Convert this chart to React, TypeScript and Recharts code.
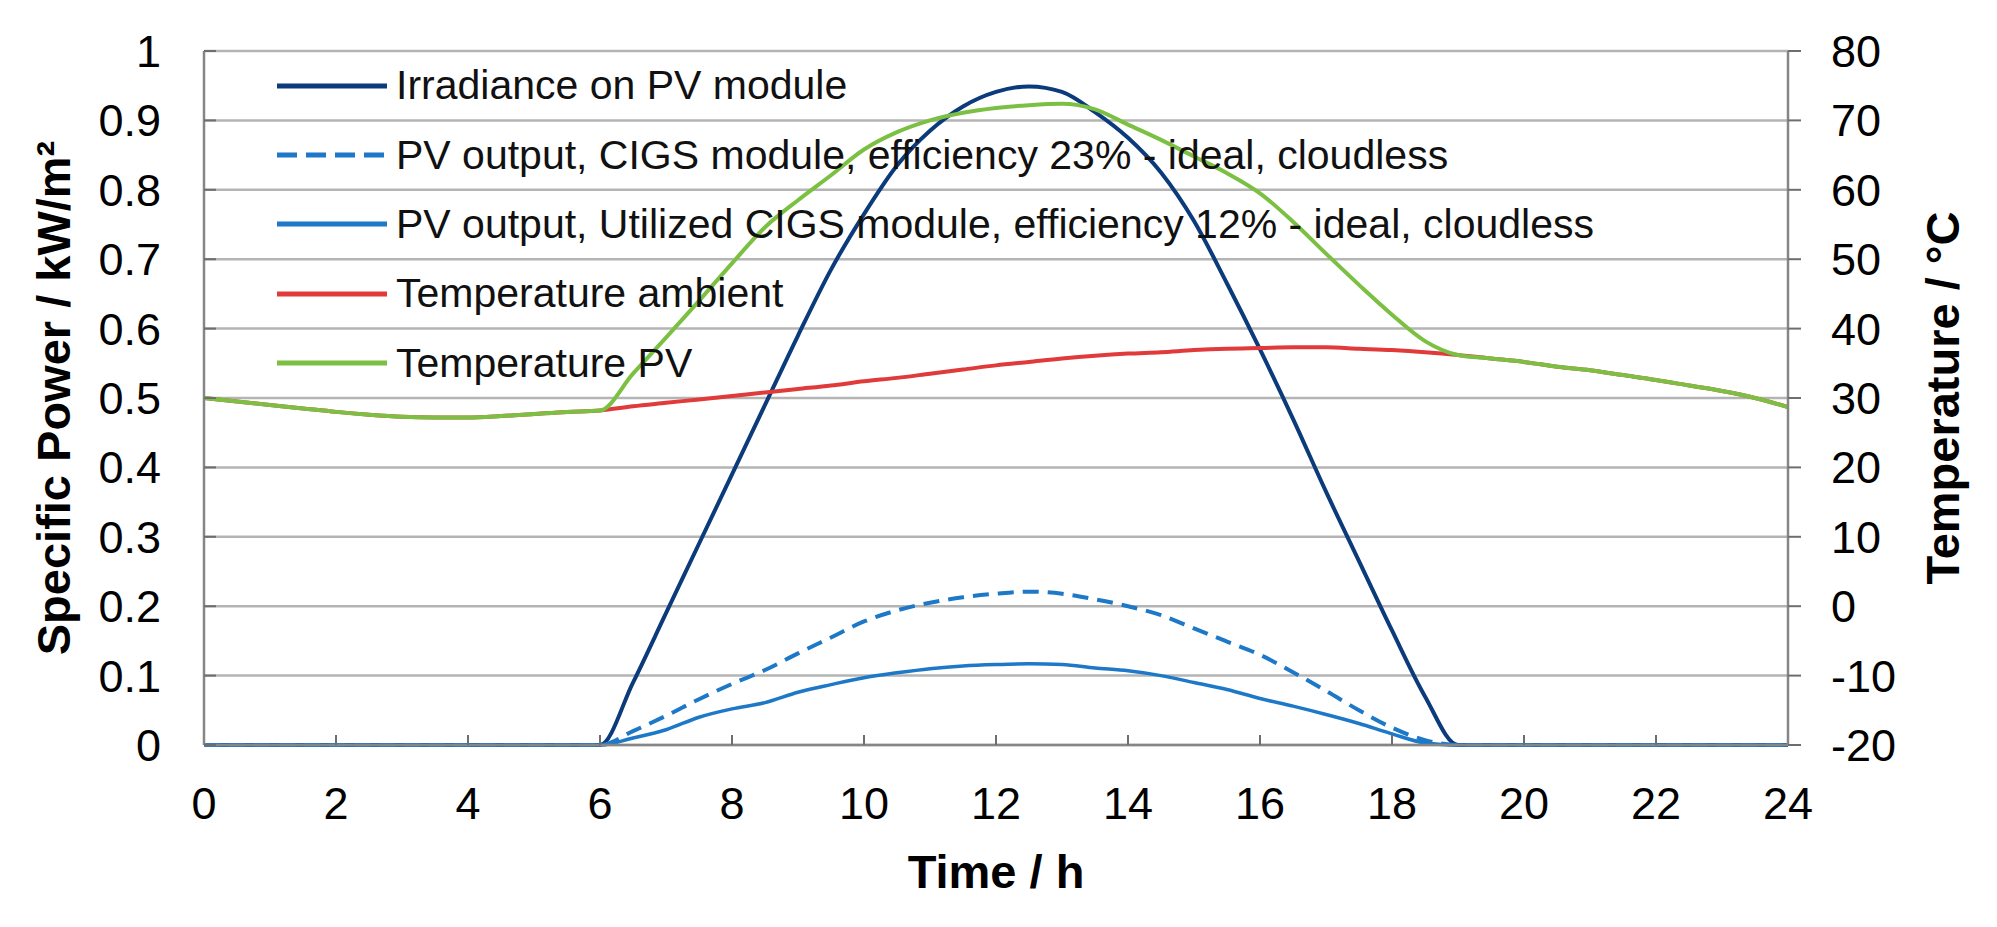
import React from "react";
import { CartesianGrid, Legend, Line, LineChart, XAxis, YAxis } from "recharts";

const hours = [
  0, 0.5, 1, 1.5, 2, 2.5, 3, 3.5, 4, 4.5, 5, 5.5, 6, 6.5, 7, 7.5, 8, 8.5, 9, 9.5, 10, 10.5, 11, 11.5, 12,
  12.5, 13, 13.5, 14, 14.5, 15, 15.5, 16, 16.5, 17, 17.5, 18, 18.5, 19, 19.5, 20, 20.5, 21, 21.5, 22, 22.5,
  23, 23.5, 24,
];

// kW/m², left axis
const irradiance = [
  0, 0, 0, 0, 0, 0, 0, 0, 0, 0, 0, 0, 0, 0.09, 0.19, 0.29, 0.39, 0.49, 0.59, 0.685, 0.765, 0.835, 0.885,
  0.92, 0.941, 0.949, 0.941, 0.912, 0.875, 0.825, 0.755, 0.665, 0.57, 0.47, 0.365, 0.265, 0.165, 0.07, 0, 0, 0,
  0, 0, 0, 0, 0, 0, 0, 0,
];

const pvCigs23 = [
  0, 0, 0, 0, 0, 0, 0, 0, 0, 0, 0, 0, 0, 0.02, 0.042, 0.066, 0.088, 0.108, 0.132, 0.155, 0.178, 0.194, 0.205,
  0.213, 0.218, 0.221, 0.218, 0.21, 0.2, 0.187, 0.168, 0.149, 0.13, 0.105, 0.078, 0.05, 0.025, 0.007, 0, 0, 0,
  0, 0, 0, 0, 0, 0, 0, 0,
];

const pvUtilized12 = [
  0, 0, 0, 0, 0, 0, 0, 0, 0, 0, 0, 0, 0, 0.01, 0.022, 0.04, 0.052, 0.061, 0.076, 0.087, 0.097, 0.104, 0.11,
  0.114, 0.116, 0.117, 0.116, 0.111, 0.107, 0.1, 0.09, 0.08, 0.067, 0.056, 0.044, 0.031, 0.016, 0.003, 0, 0, 0,
  0, 0, 0, 0, 0, 0, 0, 0,
];

// °C, right axis
const tempAmbient = [
  30.0, 29.5, 29.0, 28.5, 28.0, 27.6, 27.3, 27.2, 27.2, 27.4, 27.7, 28.0, 28.2, 28.8, 29.3, 29.8, 30.3, 30.8,
  31.3, 31.8, 32.4, 32.9, 33.5, 34.1, 34.7, 35.2, 35.7, 36.1, 36.4, 36.6, 36.9, 37.1, 37.2, 37.3, 37.3, 37.1,
  36.9, 36.6, 36.2, 35.7, 35.2, 34.5, 34.0, 33.3, 32.6, 31.8, 31.0, 30.0, 28.7,
];

const tempPv = [
  30.0, 29.5, 29.0, 28.5, 28.0, 27.6, 27.3, 27.2, 27.2, 27.4, 27.7, 28.0, 28.2, 33.5, 38.7, 44.0, 49.4, 54.6,
  58.5, 62.1, 65.8, 68.3, 70.0, 71.1, 71.8, 72.2, 72.4, 71.6, 69.4, 67.2, 64.8, 62.4, 59.5, 55.4, 50.8, 46.3,
  42.0, 38.2, 36.2, 35.7, 35.2, 34.5, 34.0, 33.3, 32.6, 31.8, 31.0, 30.0, 28.7,
];

const xTicks = [0, 2, 4, 6, 8, 10, 12, 14, 16, 18, 20, 22, 24];
const powerTicks = [0, 0.1, 0.2, 0.3, 0.4, 0.5, 0.6, 0.7, 0.8, 0.9, 1];
const tempTicks = [-20, -10, 0, 10, 20, 30, 40, 50, 60, 70, 80];

const seriesNames = [
  "Irradiance on PV module",
  "PV output, CIGS module, efficiency 23% - ideal, cloudless",
  "PV output, Utilized CIGS module, efficiency 12% - ideal, cloudless",
  "Temperature ambient",
  "Temperature PV",
];

const rows = hours.map((hour, i) => ({
  hour,
  irradiance: irradiance[i],
  pvCigs23: pvCigs23[i],
  pvUtilized12: pvUtilized12[i],
  tempAmbient: tempAmbient[i],
  tempPv: tempPv[i],
}));

const FONT = '"Liberation Sans", Arial, Helvetica, sans-serif';
const tickStyle = { fontSize: 45, fill: "#000", fontFamily: FONT };
const axisLine = { stroke: "#868686", strokeWidth: 2.5 };
const tickLine = { stroke: "#6e6e6e", strokeWidth: 2 };

type Box = { x?: number; y?: number; width?: number; height?: number };

function SideTitle({ viewBox, text, dx }: { viewBox?: Box; text: string; dx: number }) {
  const x = (viewBox?.x ?? 0) + dx;
  const y = (viewBox?.y ?? 51) + (viewBox?.height ?? 694) / 2;
  return (
    <text
      x={x}
      y={y}
      dy="0.36em"
      textAnchor="middle"
      transform={`rotate(-90 ${x} ${y})`}
      style={{ fontSize: 47, fontWeight: 700, fontFamily: FONT, fill: "#000" }}
    >
      {text}
    </text>
  );
}

function BottomTitle({ viewBox }: { viewBox?: Box }) {
  const x = (viewBox?.x ?? 204) + (viewBox?.width ?? 1584) / 2;
  const y = (viewBox?.y ?? 745) + 143;
  return (
    <text x={x} y={y} textAnchor="middle" style={{ fontSize: 47, fontWeight: 700, fontFamily: FONT, fill: "#000" }}>
      Time / h
    </text>
  );
}

function LegendBox({ payload }: any) {
  const items = [...(payload ?? [])].sort(
    (a: any, b: any) => seriesNames.indexOf(a.value) - seriesNames.indexOf(b.value)
  );
  return (
    <div style={{ fontFamily: FONT, fontSize: 41, color: "#111" }}>
      {items.map((entry: any) => (
        <div key={entry.value} style={{ display: "flex", alignItems: "center", height: 69.4, whiteSpace: "nowrap" }}>
          <svg width={110} height={10} style={{ marginRight: 9, flex: "none" }}>
            <line
              x1={0}
              y1={5}
              x2={110}
              y2={5}
              stroke={entry.color}
              strokeWidth={5}
              strokeDasharray={entry.payload?.strokeDasharray ? "20 9" : undefined}
            />
          </svg>
          <span>{entry.value}</span>
        </div>
      ))}
    </div>
  );
}

export default function App() {
  return (
    <div style={{ position: "absolute", left: 0, top: 0, width: 1997, height: 927, background: "#fff" }}>
      <LineChart width={1997} height={927} data={rows} margin={{ top: 51, right: 0, bottom: 0, left: 0 }}>
        <CartesianGrid yAxisId="power" vertical={false} stroke="#b4b4b4" strokeWidth={2.5} />
        <XAxis
          dataKey="hour"
          type="number"
          domain={[0, 24]}
          ticks={xTicks}
          height={182}
          tickSize={-10}
          tickMargin={52}
          tick={tickStyle}
          axisLine={axisLine}
          tickLine={tickLine}
          label={<BottomTitle />}
        />
        <YAxis
          yAxisId="power"
          domain={[0, 1]}
          ticks={powerTicks}
          width={204}
          tickSize={-12}
          tickMargin={55}
          tick={tickStyle}
          axisLine={axisLine}
          tickLine={tickLine}
          label={<SideTitle text="Specific Power / kW/m²" dx={53} />}
        />
        <YAxis
          yAxisId="temp"
          orientation="right"
          domain={[-20, 80]}
          ticks={tempTicks}
          width={209}
          tickSize={13}
          tickMargin={30}
          tick={tickStyle}
          axisLine={axisLine}
          tickLine={tickLine}
          label={<SideTitle text="Temperature / °C" dx={154} />}
        />
        <Legend
          layout="vertical"
          align="center"
          verticalAlign="middle"
          content={<LegendBox />}
          wrapperStyle={{ left: 277, top: 51, width: 1400, height: 350 }}
        />
        <Line
          yAxisId="power"
          dataKey="irradiance"
          name={seriesNames[0]}
          type="monotone"
          stroke="#0b3b7a"
          strokeWidth={4}
          dot={false}
          isAnimationActive={false}
        />
        <Line
          yAxisId="power"
          dataKey="pvCigs23"
          name={seriesNames[1]}
          type="monotone"
          stroke="#1d79c8"
          strokeWidth={4}
          strokeDasharray="16 9"
          dot={false}
          isAnimationActive={false}
        />
        <Line
          yAxisId="power"
          dataKey="pvUtilized12"
          name={seriesNames[2]}
          type="monotone"
          stroke="#1d79c8"
          strokeWidth={3.5}
          dot={false}
          isAnimationActive={false}
        />
        <Line
          yAxisId="temp"
          dataKey="tempAmbient"
          name={seriesNames[3]}
          type="monotone"
          stroke="#e03a3a"
          strokeWidth={4}
          dot={false}
          isAnimationActive={false}
        />
        <Line
          yAxisId="temp"
          dataKey="tempPv"
          name={seriesNames[4]}
          type="monotone"
          stroke="#7bc043"
          strokeWidth={4}
          dot={false}
          isAnimationActive={false}
        />
      </LineChart>
    </div>
  );
}
